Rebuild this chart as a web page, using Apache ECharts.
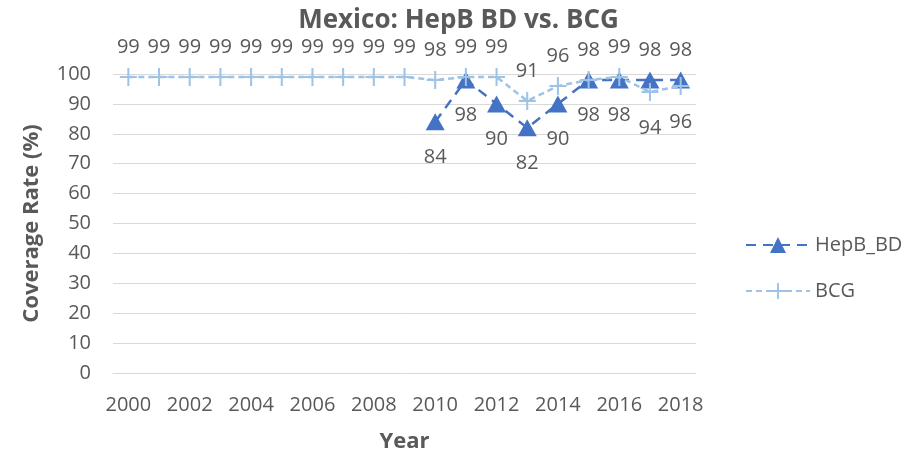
<!DOCTYPE html>
<html>
<head>
<meta charset="utf-8">
<script src="https://cdn.jsdelivr.net/npm/echarts@6/dist/echarts.min.js"></script>
<style>
  html, body { margin: 0; padding: 0; background: #fff; }
  #chart { width: 917px; height: 455px; }
</style>
</head>
<body>
<div id="chart"></div>
<script>
// chart data
var years = ['2000', '2001', '2002', '2003', '2004', '2005', '2006', '2007', '2008', '2009',
  '2010', '2011', '2012', '2013', '2014', '2015', '2016', '2017', '2018'];
var hepbBD = [null, null, null, null, null, null, null, null, null, null,
  84, 98, 90, 82, 90, 98, 98, 98, 98];
var bcg = [99, 99, 99, 99, 99, 99, 99, 99, 99, 99,
  98, 99, 99, 91, 96, 98, 99, 94, 96];
// where each data label sits, as Excel placed them
var hepbLabelPos = ['bottom', 'bottom', 'bottom', 'bottom', 'bottom', 'bottom', 'bottom', 'bottom', 'bottom', 'bottom',
  'bottom', 'bottom', 'bottom', 'bottom', 'bottom', 'bottom', 'bottom', 'top', 'top'];
var bcgLabelPos = ['top', 'top', 'top', 'top', 'top', 'top', 'top', 'top', 'top', 'top',
  'top', 'top', 'top', 'top', 'top', 'top', 'top', 'bottom', 'bottom'];

var textColor = '#595959';
var font = 'Open Sans';
var plusIcon = 'path://M-1,-0.12H1V0.12H-1Z M-0.12,-1H0.12V1H-0.12Z';

function withLabels(values, positions) {
  return values.map(function (v, i) {
    return {
      value: v,
      label: { position: positions[i], distance: positions[i] === 'top' ? 11 : 17 }
    };
  });
}

var chart = echarts.init(document.getElementById('chart'));
var option = {
  backgroundColor: '#ffffff',
  animation: false,
  title: {
    text: 'Mexico: HepB BD vs. BCG',
    left: 'center',
    top: 3,
    textStyle: { fontFamily: font, fontSize: 26, fontWeight: 'bold', color: textColor }
  },
  legend: {
    orient: 'vertical',
    left: 740,
    top: 230,
    itemGap: 26,
    itemWidth: 64,
    itemHeight: 20,
    textStyle: { fontFamily: font, fontSize: 20, lineHeight: 20, color: textColor },
    data: ['HepB_BD', 'BCG']
  },
  grid: { left: 113, right: 221, top: 74, bottom: 82, outerBoundsMode: 'none' },
  xAxis: {
    type: 'category',
    data: years,
    boundaryGap: true,
    name: 'Year',
    nameLocation: 'middle',
    nameGap: 58,
    nameTextStyle: { fontFamily: font, fontSize: 22, fontWeight: 'bold', color: textColor },
    axisLine: { lineStyle: { color: '#d9d9d9' } },
    axisTick: { show: false },
    axisLabel: { interval: 1, fontFamily: font, fontSize: 20, color: textColor, margin: 22 }
  },
  yAxis: {
    type: 'value',
    min: 0,
    max: 100,
    interval: 10,
    name: 'Coverage Rate (%)',
    nameLocation: 'middle',
    nameGap: 70,
    nameTextStyle: { fontFamily: font, fontSize: 22, fontWeight: 'bold', color: textColor },
    axisLine: { show: false },
    axisTick: { show: false },
    splitLine: { lineStyle: { color: '#d9d9d9' } },
    axisLabel: { fontFamily: font, fontSize: 20, color: textColor, margin: 22 }
  },
  series: [{
    name: 'HepB_BD',
    type: 'line',
    data: withLabels(hepbBD, hepbLabelPos),
    symbol: 'triangle',
    symbolSize: [19, 17],
    color: '#4472C4',
    lineStyle: { color: '#4472C4', width: 2.5, type: [10, 7] },
    itemStyle: { color: '#4472C4' },
    label: { show: true, fontFamily: font, fontSize: 20, color: textColor },
    z: 3
  }, {
    name: 'BCG',
    type: 'line',
    data: withLabels(bcg, bcgLabelPos),
    symbol: plusIcon,
    symbolSize: [17, 18],
    color: '#9DC3E6',
    lineStyle: { color: '#9DC3E6', width: 2.5, type: [6, 4] },
    itemStyle: { color: '#9DC3E6' },
    label: { show: true, fontFamily: font, fontSize: 20, color: textColor },
    z: 4
  }]
};
chart.setOption(option);
</script>
</body>
</html>
